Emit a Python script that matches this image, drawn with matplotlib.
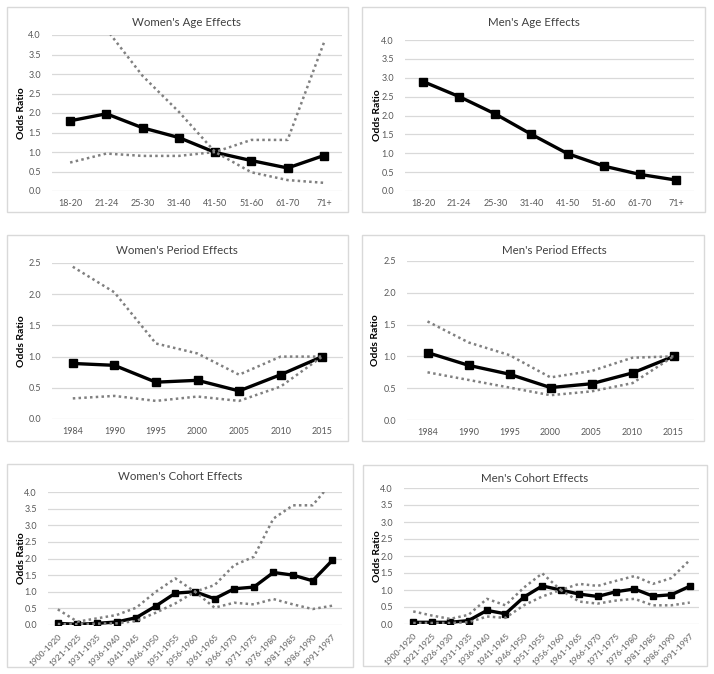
import numpy as np
import matplotlib.pyplot as plt
from matplotlib.patches import Rectangle

plt.rcParams['font.family'] = ['Lato', 'DejaVu Sans']

# ---------------- data ----------------
age_groups = ["18-20", "21-24", "25-30", "31-40", "41-50", "51-60", "61-70", "71+"]
women_age = [1.80, 1.98, 1.62, 1.37, 0.99, 0.78, 0.59, 0.91]
women_age_hi = [np.nan, 4.15, 2.95, 2.03, 1.00, 0.48, 0.28, 0.21]
women_age_lo = [0.73, 0.96, 0.90, 0.90, 1.00, 1.31, 1.31, 3.80]
men_age = [2.90, 2.50, 2.04, 1.50, 0.99, 0.66, 0.44, 0.29]

periods = ["1984", "1990", "1995", "2000", "2005", "2010", "2015"]
women_period = [0.89, 0.86, 0.59, 0.62, 0.45, 0.71, 1.00]
women_period_hi = [2.44, 2.03, 1.21, 1.05, 0.71, 1.00, 1.00]
women_period_lo = [0.33, 0.37, 0.29, 0.36, 0.29, 0.52, 1.00]
men_period = [1.06, 0.86, 0.72, 0.51, 0.57, 0.74, 1.00]
men_period_hi = [1.55, 1.22, 1.02, 0.67, 0.77, 0.98, 1.00]
men_period_lo = [0.75, 0.63, 0.51, 0.39, 0.45, 0.58, 1.00]

women_cohorts = ["1900-1920", "1921-1925", "1931-1935", "1936-1940", "1941-1945",
                 "1946-1950", "1951-1955", "1956-1960", "1961-1965", "1966-1970",
                 "1971-1975", "1976-1980", "1981-1985", "1986-1990", "1991-1997"]
women_cohort = [0.05, 0.02, 0.05, 0.09, 0.22, 0.57, 0.96, 1.00, 0.79, 1.09,
                1.14, 1.58, 1.50, 1.33, 1.94]
women_cohort_hi = [0.47, 0.10, 0.20, 0.30, 0.52, 1.00, 1.40, 1.00, 1.20, 1.80,
                   2.05, 3.20, 3.60, 3.60, 4.30]
women_cohort_lo = [0.03, 0.02, 0.04, 0.05, 0.12, 0.37, 0.65, 1.00, 0.52, 0.67,
                   0.62, 0.78, 0.62, 0.48, 0.58]

men_cohorts = ["1900-1920", "1921-1925", "1926-1930", "1931-1935", "1936-1940",
               "1941-1945", "1946-1950", "1951-1955", "1956-1960", "1961-1965",
               "1966-1970", "1971-1975", "1976-1980", "1981-1985", "1986-1990",
               "1991-1997"]
men_cohort = [0.05, 0.05, 0.05, 0.10, 0.40, 0.30, 0.79, 1.12, 1.00, 0.88,
              0.81, 0.95, 1.03, 0.82, 0.86, 1.11]
men_cohort_hi = [0.37, 0.25, 0.15, 0.27, 0.74, 0.55, 1.07, 1.49, 1.00, 1.18,
                 1.12, 1.27, 1.41, 1.18, 1.35, 1.88]
men_cohort_lo = [0.03, 0.03, 0.03, 0.05, 0.22, 0.18, 0.55, 0.81, 1.00, 0.66,
                 0.60, 0.69, 0.74, 0.55, 0.55, 0.63]

W, H = 714, 674
fig = plt.figure(figsize=(W / 100, H / 100), dpi=100)

GRID = "#d9d9d9"
TXT = "#595959"
DOT = "#808080"


def px_axes(l, t, r, b):
    return fig.add_axes([l / W, 1 - b / H, (r - l) / W, (b - t) / H])


def box(l, t, r, b):
    fig.patches.append(Rectangle((l / W, 1 - b / H), (r - l) / W, (b - t) / H,
                                 transform=fig.transFigure, fill=False,
                                 edgecolor=GRID, linewidth=1.0))


def panel(rect, border, title, title_xy, ylab_x, cats, est, hi=None, lo=None,
          ymax=4.0, rotate=False, ms=5.5):
    box(*border)
    ax = px_axes(*rect)
    x = np.arange(len(cats))
    ax.plot(x, est, color="black", lw=2.4, marker="s", ms=ms, zorder=3)
    for band in (hi, lo):
        if band is not None:
            ax.plot(x, band, color=DOT, lw=1.8, linestyle=(0, (1, 1.3)), zorder=4)
    ax.set_xlim(-0.5, len(cats) - 0.5)
    ax.set_ylim(0, ymax)
    ax.set_yticks(np.arange(0, ymax + 0.01, 0.5))
    ax.yaxis.set_major_formatter(plt.FormatStrFormatter("%.1f"))
    ax.set_xticks(x)
    if rotate:
        ax.set_xticklabels(cats, rotation=45, ha="right", rotation_mode="anchor",
                           fontsize=6)
    else:
        ax.set_xticklabels(cats, fontsize=6.5)
    ax.tick_params(axis="y", labelsize=6.5, pad=8)
    ax.tick_params(axis="x", pad=6)
    ax.tick_params(length=0, colors=TXT)
    ax.grid(axis="y", color=GRID, lw=0.9)
    ax.set_axisbelow(True)
    for s in ax.spines.values():
        s.set_visible(False)
    fig.text(title_xy[0] / W, 1 - title_xy[1] / H, title, ha="center",
             va="center", fontsize=8.3, color="#404040")
    mid = (rect[1] + rect[3]) / 2
    fig.text(ylab_x / W, 1 - mid / H, "Odds Ratio", rotation=90, ha="center",
             va="center", fontsize=7.5, fontweight="bold", color="black")
    return ax


panel((52, 35, 342, 191), (7, 7, 348, 212), "Women's Age Effects", (187, 22), 21,
      age_groups, women_age, women_age_hi, women_age_lo)
panel((405, 40, 694, 191), (362, 7, 705, 212), "Men's Age Effects", (534, 22), 377,
      age_groups, men_age)

panel((52, 263, 343, 419), (7, 235, 348, 441), "Women's Period Effects", (177, 250), 21,
      periods, women_period, women_period_hi, women_period_lo, ymax=2.5)
panel((407, 261, 694, 420), (362, 235, 704, 441), "Men's Period Effects", (554, 250), 376,
      periods, men_period, men_period_hi, men_period_lo, ymax=2.5)

panel((48, 492, 342, 625), (7, 464, 353, 667), "Women's Cohort Effects", (180, 477), 21,
      women_cohorts, women_cohort, women_cohort_hi, women_cohort_lo,
      rotate=True, ms=5)
panel((404, 488, 699, 624), (363, 465, 707, 666), "Men's Cohort Effects", (535, 478), 377,
      men_cohorts, men_cohort, men_cohort_hi, men_cohort_lo,
      rotate=True, ms=5)

fig.savefig("out.png", dpi=100)
